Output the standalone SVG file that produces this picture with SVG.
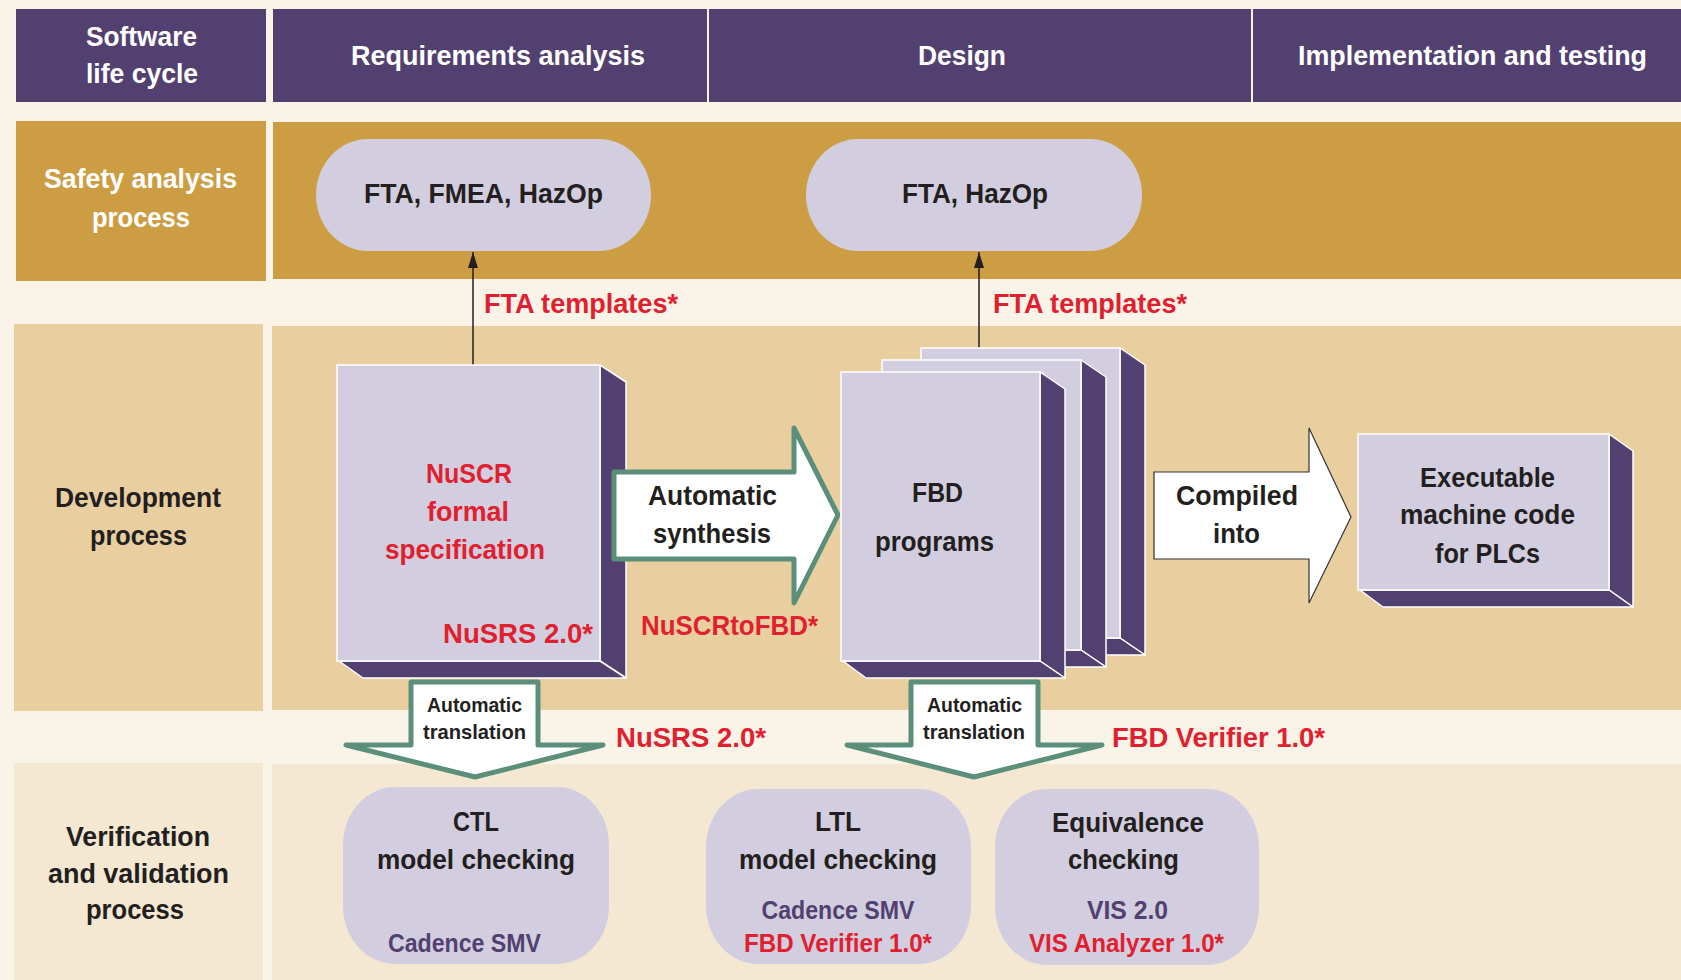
<svg xmlns="http://www.w3.org/2000/svg" width="1681" height="980" viewBox="0 0 1681 980">
<style>
.t{font-family:"Liberation Sans",Arial,sans-serif;font-weight:bold;font-size:28px;text-anchor:middle;fill:#231f20}
.w{fill:#ffffff}
.r{fill:#e0202f}
.p{fill:#524170}
.sm{font-size:21px}
.md{font-size:25px}
.hd{fill:#524170}
.front{fill:#d2cedf;stroke:#ffffff;stroke-width:1.5}
.side{fill:#524170;stroke:#ffffff;stroke-width:1.5;stroke-linejoin:round}
.pill{fill:#d2cedf}
.garrow{fill:#ffffff;stroke:#5b8f7a;stroke-width:5;stroke-linejoin:round}
.karrow{fill:#ffffff;stroke:#333333;stroke-width:1.2}
</style>
<defs>
<marker id="ah" viewBox="0 0 16 10" refX="16" refY="5" markerWidth="16" markerHeight="10" markerUnits="userSpaceOnUse" orient="auto">
<path d="M0,0 L16,5 L0,10 Z" fill="#231f20"/>
</marker>
</defs>
<rect x="0" y="0" width="1681" height="980" fill="#faf3e7"/>

<g id="lanes">
<rect x="16" y="9" width="250" height="93" class="hd"/>
<rect x="273" y="9" width="434" height="93" class="hd"/>
<rect x="709" y="9" width="542" height="93" class="hd"/>
<rect x="1253" y="9" width="428" height="93" class="hd"/>
<rect x="16" y="121" width="250" height="160" fill="#cd9d43"/>
<rect x="273" y="122" width="1408" height="157" fill="#cd9d43"/>
<rect x="14" y="324" width="249" height="387" fill="#e9cfa0"/>
<rect x="272" y="326" width="1409" height="384" fill="#e9cfa0"/>
<rect x="14" y="763" width="249" height="217" fill="#f4e8d3"/>
<rect x="272" y="764" width="1409" height="216" fill="#f4e8d3"/>
<text class="t w" x="141.5" y="46" textLength="111" lengthAdjust="spacingAndGlyphs">Software</text>
<text class="t w" x="142" y="83" textLength="112" lengthAdjust="spacingAndGlyphs">life cycle</text>
<text class="t w" x="498" y="65" textLength="294" lengthAdjust="spacingAndGlyphs">Requirements analysis</text>
<text class="t w" x="962" y="65" textLength="88" lengthAdjust="spacingAndGlyphs">Design</text>
<text class="t w" x="1472.5" y="65" textLength="349" lengthAdjust="spacingAndGlyphs">Implementation and testing</text>
<text class="t w" x="140.5" y="188" textLength="193" lengthAdjust="spacingAndGlyphs">Safety analysis</text>
<text class="t w" x="141" y="227" textLength="98" lengthAdjust="spacingAndGlyphs">process</text>
<text class="t" x="138" y="507" textLength="166" lengthAdjust="spacingAndGlyphs">Development</text>
<text class="t" x="138.5" y="545" textLength="97" lengthAdjust="spacingAndGlyphs">process</text>
<text class="t" x="138" y="846" textLength="144" lengthAdjust="spacingAndGlyphs">Verification</text>
<text class="t" x="138.5" y="883" textLength="181" lengthAdjust="spacingAndGlyphs">and validation</text>
<text class="t" x="135" y="919" textLength="98" lengthAdjust="spacingAndGlyphs">process</text>
</g>

<g id="connectors">
<line x1="473" y1="365" x2="473" y2="252" stroke="#231f20" stroke-width="1.5" marker-end="url(#ah)"/>
<line x1="979" y1="372" x2="979" y2="252" stroke="#231f20" stroke-width="1.5" marker-end="url(#ah)"/>
<text class="t r" x="581" y="313" textLength="194" lengthAdjust="spacingAndGlyphs">FTA templates*</text>
<text class="t r" x="1090" y="313" textLength="194" lengthAdjust="spacingAndGlyphs">FTA templates*</text>
</g>

<g id="fta-fmea-hazop">
<rect x="316" y="139" width="335" height="112" rx="52" ry="56" class="pill"/>
<text class="t" x="483.5" y="203" textLength="239" lengthAdjust="spacingAndGlyphs">FTA, FMEA, HazOp</text>
</g>
<g id="fta-hazop">
<rect x="806" y="139" width="336" height="112" rx="52" ry="56" class="pill"/>
<text class="t" x="975" y="203" textLength="146" lengthAdjust="spacingAndGlyphs">FTA, HazOp</text>
</g>

<g id="nuscr">
<polygon class="side" points="600,365 626,382 626,678 600,661"/>
<polygon class="side" points="339,661 600,661 626,678 363,678"/>
<rect class="front" x="337" y="365" width="263" height="296"/>
<text class="t r" x="469" y="483" textLength="86" lengthAdjust="spacingAndGlyphs">NuSCR</text>
<text class="t r" x="468" y="521" textLength="82" lengthAdjust="spacingAndGlyphs">formal</text>
<text class="t r" x="465" y="559" textLength="160" lengthAdjust="spacingAndGlyphs">specification</text>
<text class="t r" x="518" y="643" textLength="150" lengthAdjust="spacingAndGlyphs">NuSRS 2.0*</text>
</g>

<g id="synthesis">
<polygon class="garrow" points="614,472 794,472 794,428 838,515 794,603 794,559 614,559"/>
<text class="t" x="712.5" y="505" textLength="129" lengthAdjust="spacingAndGlyphs">Automatic</text>
<text class="t" x="712" y="543" textLength="118" lengthAdjust="spacingAndGlyphs">synthesis</text>
<text class="t r" x="729.5" y="635" textLength="177" lengthAdjust="spacingAndGlyphs">NuSCRtoFBD*</text>
</g>

<g id="fbd">
<polygon class="side" points="1120,348 1145,365 1145,655 1120,638"/>
<polygon class="side" points="923,638 1120,638 1145,655 946,655"/>
<rect class="front" x="921" y="348" width="199" height="290"/>
<polygon class="side" points="1081,360 1106,377 1106,667 1081,650"/>
<polygon class="side" points="884,650 1081,650 1106,667 907,667"/>
<rect class="front" x="882" y="360" width="199" height="290"/>
<polygon class="side" points="1040,372 1065,389 1065,678 1040,661"/>
<polygon class="side" points="843,661 1040,661 1065,678 866,678"/>
<rect class="front" x="841" y="372" width="199" height="289"/>
<text class="t" x="937.5" y="502" textLength="51" lengthAdjust="spacingAndGlyphs">FBD</text>
<text class="t" x="934.5" y="551" textLength="119" lengthAdjust="spacingAndGlyphs">programs</text>
</g>

<g id="compiled">
<polygon class="karrow" points="1154,472 1309,472 1309,428 1351,517 1309,603 1309,559 1154,559"/>
<text class="t" x="1237" y="505" textLength="122" lengthAdjust="spacingAndGlyphs">Compiled</text>
<text class="t" x="1236.5" y="543" textLength="47" lengthAdjust="spacingAndGlyphs">into</text>
</g>

<g id="executable">
<polygon class="side" points="1609,434 1633,451 1633,607 1609,590"/>
<polygon class="side" points="1360,590 1609,590 1633,607 1383,607"/>
<rect class="front" x="1358" y="434" width="251" height="156"/>
<text class="t" x="1487.5" y="487" textLength="135" lengthAdjust="spacingAndGlyphs">Executable</text>
<text class="t" x="1487.5" y="524" textLength="175" lengthAdjust="spacingAndGlyphs">machine code</text>
<text class="t" x="1487.5" y="563" textLength="105" lengthAdjust="spacingAndGlyphs">for PLCs</text>
</g>

<g id="translation-1">
<polygon class="garrow" points="411,682 538,682 538,745 603,745 475,777 346,745 411,745"/>
<text class="t sm" x="474.5" y="712" textLength="95" lengthAdjust="spacingAndGlyphs">Automatic</text>
<text class="t sm" x="474.5" y="739" textLength="103" lengthAdjust="spacingAndGlyphs">translation</text>
<text class="t r" x="691" y="747" textLength="150" lengthAdjust="spacingAndGlyphs">NuSRS 2.0*</text>
</g>

<g id="translation-2">
<polygon class="garrow" points="911,682 1038,682 1038,745 1102,745 974,777 847,745 911,745"/>
<text class="t sm" x="974.5" y="712" textLength="95" lengthAdjust="spacingAndGlyphs">Automatic</text>
<text class="t sm" x="974" y="739" textLength="102" lengthAdjust="spacingAndGlyphs">translation</text>
<text class="t r" x="1218.5" y="747" textLength="213" lengthAdjust="spacingAndGlyphs">FBD Verifier 1.0*</text>
</g>

<g id="ctl">
<rect x="343" y="787" width="266" height="177" rx="52" ry="58" class="pill"/>
<text class="t" x="476" y="831" textLength="46" lengthAdjust="spacingAndGlyphs">CTL</text>
<text class="t" x="476" y="869" textLength="198" lengthAdjust="spacingAndGlyphs">model checking</text>
<text class="t md p" x="464.5" y="952" textLength="153" lengthAdjust="spacingAndGlyphs">Cadence SMV</text>
</g>

<g id="ltl">
<rect x="706" y="789" width="265" height="175" rx="52" ry="58" class="pill"/>
<text class="t" x="838" y="831" textLength="46" lengthAdjust="spacingAndGlyphs">LTL</text>
<text class="t" x="838" y="869" textLength="198" lengthAdjust="spacingAndGlyphs">model checking</text>
<text class="t md p" x="838" y="919" textLength="153" lengthAdjust="spacingAndGlyphs">Cadence SMV</text>
<text class="t md r" x="838" y="952" textLength="188" lengthAdjust="spacingAndGlyphs">FBD Verifier 1.0*</text>
</g>

<g id="equivalence">
<rect x="995" y="789" width="264" height="176" rx="52" ry="58" class="pill"/>
<text class="t" x="1128" y="832" textLength="152" lengthAdjust="spacingAndGlyphs">Equivalence</text>
<text class="t" x="1123.5" y="869" textLength="111" lengthAdjust="spacingAndGlyphs">checking</text>
<text class="t md p" x="1127.5" y="919" textLength="81" lengthAdjust="spacingAndGlyphs">VIS 2.0</text>
<text class="t md r" x="1126.5" y="952" textLength="195" lengthAdjust="spacingAndGlyphs">VIS Analyzer 1.0*</text>
</g>
</svg>
